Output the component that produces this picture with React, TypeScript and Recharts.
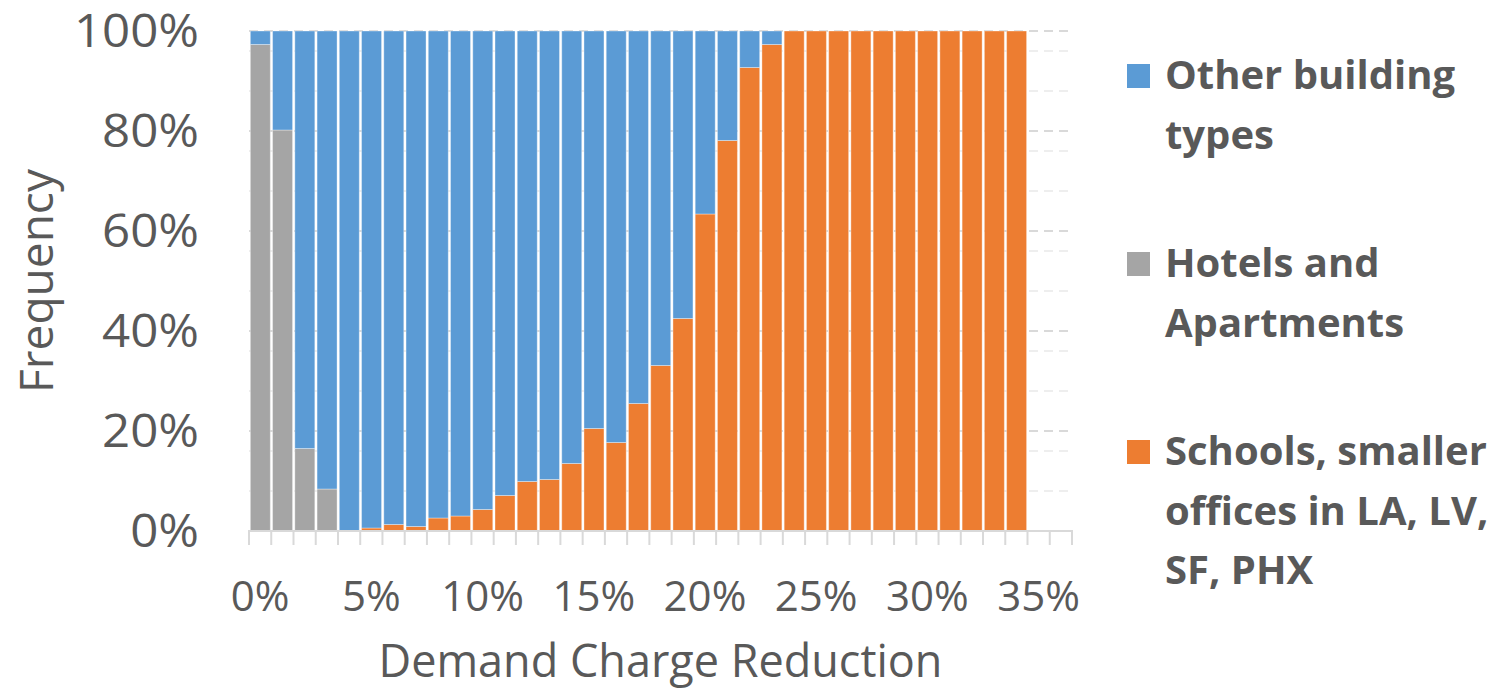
import React from "react";
import { Bar, BarChart, CartesianGrid, XAxis, YAxis } from "recharts";

// demand charge reduction bins, 0% .. 36%
const categories = [
  "0%", "1%", "2%", "3%", "4%", "5%", "6%", "7%", "8%", "9%",
  "10%", "11%", "12%", "13%", "14%", "15%", "16%", "17%", "18%", "19%",
  "20%", "21%", "22%", "23%", "24%", "25%", "26%", "27%", "28%", "29%",
  "30%", "31%", "32%", "33%", "34%", "35%", "36%",
];
const labelledTicks = ["0%", "5%", "10%", "15%", "20%", "25%", "30%", "35%"];

// share of each group per bin (%)
const schools = [
  0, 0, 0, 0, 0, 0.6, 1.3, 0.9, 2.6, 3.0,
  4.3, 7.1, 9.9, 10.3, 13.5, 20.5, 17.7, 25.5, 33.1, 42.5,
  63.4, 78.1, 92.7, 97.3, 100, 100, 100, 100, 100, 100,
  100, 100, 100, 100, 100,
];
const hotels = [
  97.3, 80.2, 16.5, 8.4, 0, 0, 0, 0, 0, 0,
  0, 0, 0, 0, 0, 0, 0, 0, 0, 0,
  0, 0, 0, 0, 0, 0, 0, 0, 0, 0,
  0, 0, 0, 0, 0,
];
const others = [
  2.7, 19.8, 83.5, 91.6, 100, 99.4, 98.7, 99.1, 97.4, 97.0,
  95.7, 92.9, 90.1, 89.7, 86.5, 79.5, 82.3, 74.5, 66.9, 57.5,
  36.6, 21.9, 7.3, 2.7, 0, 0, 0, 0, 0, 0,
  0, 0, 0, 0, 0,
];

const yTicks = [0, 20, 40, 60, 80, 100];
const minorGrid = [4, 8, 12, 16, 24, 28, 32, 36, 44, 48, 52, 56, 64, 68, 72, 76, 84, 88, 92, 96];
const majorGrid = [20, 40, 60, 80, 100];

const legendItems = [
  { lines: ["Other building", "types"], color: "#5B9BD5" },
  { lines: ["Hotels and", "Apartments"], color: "#A5A5A5" },
  { lines: ["Schools, smaller", "offices in LA, LV,", "SF, PHX"], color: "#ED7D31" },
];

const data = categories.map((name, i) => ({
  name,
  schools: schools[i],
  hotels: hotels[i],
  other: others[i],
}));

const TEXT = "#595959";
const AXIS = "#d9d9d9";
const FONT = "'Open Sans', sans-serif";

const PLOT_LEFT = 249;
const PLOT_RIGHT = 1072;
const BAND = (PLOT_RIGHT - PLOT_LEFT) / categories.length;

const XTick = ({ x, y, payload, index }: any) => {
  const last = index === categories.length - 1;
  return (
    <g>
      <line x1={x - BAND / 2} x2={x - BAND / 2} y1={y - 1} y2={y + 14} stroke={AXIS} strokeWidth={2} />
      {last && <line x1={x + BAND / 2} x2={x + BAND / 2} y1={y - 1} y2={y + 14} stroke={AXIS} strokeWidth={2} />}
      {labelledTicks.includes(payload.value) && (
        <text x={x} y={y + 80} textAnchor="middle" fill={TEXT} fontFamily={FONT} fontSize={42}>
          {payload.value}
        </text>
      )}
    </g>
  );
};

const YTick = ({ y, payload }: any) => (
  <text
    transform={`translate(199,${y + 16}) scale(1.07,1)`}
    textAnchor="end"
    fill={TEXT}
    fontFamily={FONT}
    fontSize={46}
  >
    {payload.value}%
  </text>
);

function Legend() {
  const baselines = [[89, 149], [277, 337], [465, 525, 584]];
  return (
    <svg width={380} height={691} style={{ position: "absolute", left: 1121, top: 0 }}>
      {legendItems.map((item, i) => (
        <g key={item.color}>
          <rect x={6} y={baselines[i][0] - 25} width={23} height={24} fill={item.color} />
          {item.lines.map((line, j) => (
            <text key={line} x={44} y={baselines[i][j]} fill={TEXT} fontFamily={FONT} fontWeight={700} fontSize={40}>
              {line}
            </text>
          ))}
        </g>
      ))}
    </svg>
  );
}

export default function App() {
  return (
    <div style={{ position: "absolute", left: 0, top: 0, width: 1501, height: 691, background: "#fff" }}>
      <BarChart
        width={1501}
        height={691}
        data={data}
        margin={{ top: 31, right: 1501 - PLOT_RIGHT, bottom: 0, left: 0 }}
        barCategoryGap="6%"
      >
        <CartesianGrid vertical={false} horizontalValues={minorGrid} stroke="#eeeeee" strokeWidth={2} strokeDasharray="9 6" />
        <CartesianGrid vertical={false} horizontalValues={majorGrid} stroke="#d9d9d9" strokeWidth={2} strokeDasharray="9 6" />
        <XAxis
          dataKey="name"
          interval={0}
          height={160}
          tickLine={false}
          tickSize={0}
          tickMargin={0}
          axisLine={{ stroke: AXIS, strokeWidth: 2 }}
          tick={<XTick />}
          label={({ viewBox }: any) => (
            <text
              x={viewBox.x + viewBox.width / 2}
              y={677}
              textAnchor="middle"
              fill={TEXT}
              fontFamily={FONT}
              fontSize={45}
            >
              Demand Charge Reduction
            </text>
          )}
        />
        <YAxis
          width={PLOT_LEFT}
          domain={[0, 100]}
          ticks={yTicks}
          axisLine={false}
          tickLine={false}
          tick={<YTick />}
          label={({ viewBox }: any) => (
            <text
              transform={`translate(53,${viewBox.y + viewBox.height / 2}) rotate(-90)`}
              textAnchor="middle"
              fill={TEXT}
              fontFamily={FONT}
              fontSize={46}
            >
              Frequency
            </text>
          )}
        />
        <Bar dataKey="schools" stackId="a" fill="#ED7D31" stroke="#ffffff" strokeOpacity={0.35} isAnimationActive={false} />
        <Bar dataKey="hotels" stackId="a" fill="#A5A5A5" stroke="#ffffff" strokeOpacity={0.35} isAnimationActive={false} />
        <Bar dataKey="other" stackId="a" fill="#5B9BD5" stroke="#ffffff" strokeOpacity={0.35} isAnimationActive={false} />
      </BarChart>
      <Legend />
    </div>
  );
}
